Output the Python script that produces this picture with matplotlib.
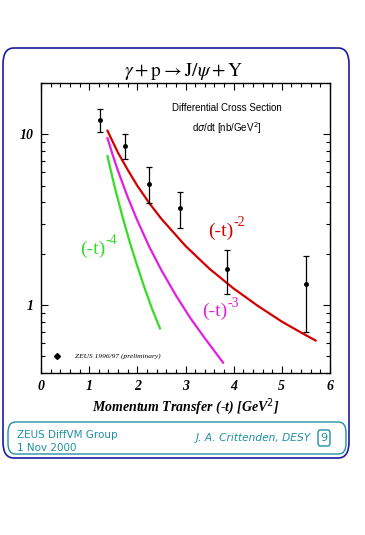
import matplotlib.pyplot as plt
from matplotlib.patches import FancyBboxPatch
import numpy as np

# ZEUS 1996/97 preliminary points: -t [GeV^2], dsigma/dt [nb/GeV^2], asymmetric errors
t_data = [1.22, 1.75, 2.25, 2.88, 3.87, 5.50]
xsec = [12.2, 8.6, 5.1, 3.7, 1.62, 1.32]
xsec_hi = [14.1, 10.1, 6.46, 4.62, 2.09, 1.94]
xsec_lo = [10.3, 7.13, 3.95, 2.83, 1.16, 0.70]

# curves
t_m2 = [1.38, 1.6, 1.8, 2.0, 2.25, 2.5, 3.0, 3.5, 4.0, 4.5, 5.0, 5.4, 5.7]
y_m2 = [10.5, 7.8, 6.2, 5.0, 3.95, 3.2, 2.22, 1.63, 1.25, 0.99, 0.80, 0.69, 0.62]
t_m3 = [1.38, 1.5, 1.6, 1.8, 2.0, 2.25, 2.5, 2.8, 3.1, 3.4, 3.78]
y_m3 = [9.5, 7.4, 6.1, 4.29, 3.13, 2.19, 1.6, 1.14, 0.84, 0.64, 0.46]
t_m4 = [1.38, 1.46, 1.55, 1.7, 1.85, 2.0, 2.15, 2.3, 2.47]
y_m4 = [7.45, 5.95, 4.67, 3.23, 2.30, 1.69, 1.26, 0.96, 0.73]

W, H = 365, 535


def fx(x):
    return x / W


def fy(y):
    return 1 - y / H


fig = plt.figure(figsize=(W / 100, H / 100), dpi=100)
fig.patch.set_facecolor('white')

# outer rounded frame and footer box
navy = '#1c1c9c'
teal = '#1f8fa6'
frame = FancyBboxPatch((fx(3), fy(458)), fx(346), (458 - 48) / H,
                       boxstyle='round,pad=0,rounding_size=0.03',
                       transform=fig.transFigure, fill=False, ec=navy, lw=1.2)
fig.patches.append(frame)
footer = FancyBboxPatch((fx(8), fy(454)), fx(338), (454 - 422) / H,
                        boxstyle='round,pad=0,rounding_size=0.02',
                        transform=fig.transFigure, fill=False, ec=teal, lw=1.0)
fig.patches.append(footer)
numbox = FancyBboxPatch((fx(318), fy(446)), fx(12), 16 / H,
                        boxstyle='round,pad=0,rounding_size=0.006',
                        transform=fig.transFigure, fill=False, ec=teal, lw=1.0)
fig.patches.append(numbox)

ax = fig.add_axes([fx(41), fy(373), fx(330 - 41), (373 - 83) / H])

ax.plot(t_m2, y_m2, color='#d40000', lw=1.6)
ax.plot(t_m3, y_m3, color='#e020e0', lw=1.6)
ax.plot(t_m4, y_m4, color='#33dd22', lw=1.6)

yerr = [np.array(xsec) - np.array(xsec_lo), np.array(xsec_hi) - np.array(xsec)]
ax.errorbar(t_data, xsec, yerr=yerr, fmt='o', color='black', ms=2.5,
            ecolor='black', elinewidth=0.9, capsize=2.5, capthick=0.9)

ax.set_yscale('log')
ax.set_xlim(0, 6)
ax.set_ylim(0.4, 20)
ax.set_xticks([0, 1, 2, 3, 4, 5, 6])
ax.set_xticks(np.arange(0, 6.01, 0.2), minor=True)
ax.set_yticks([1, 10])
ax.set_yticklabels(['1', '10'])
ax.tick_params(which='both', direction='in', top=True, right=True, width=0.8)
ax.tick_params(which='major', length=5, pad=5)
ax.tick_params(which='minor', length=3)
ax.yaxis.set_minor_formatter(plt.NullFormatter())
for lab in ax.get_xticklabels() + ax.get_yticklabels():
    lab.set_family('Liberation Serif')
    lab.set_fontweight('bold')
    lab.set_fontstyle('italic')
    lab.set_fontsize(10)
for s in ax.spines.values():
    s.set_linewidth(1.0)

ax.set_xlabel('Momentum Transfer (-t) [GeV$^2$]', family='Liberation Serif',
              fontweight='bold', fontstyle='italic', fontsize=10, labelpad=2)


# curve labels: "(-t)" with a small raised exponent
def power_label(x, y, expo, color):
    base = ax.text(x, y, '(-t)', color=color, family='Liberation Serif', fontsize=14)
    ax.annotate(expo, xy=(1.0, 0.62), xycoords=base, va='bottom', ha='left',
                color=color, family='Liberation Serif', fontsize=10)


power_label(3.47, 2.55, '-2', '#d40000')
power_label(0.82, 2.0, '-4', '#33dd22')
power_label(3.34, 0.86, '-3', '#e020e0')

# in-plot annotations
ax.text(3.85, 14.3, 'Differential Cross Section', ha='center', va='center',
        family='Liberation Sans', fontsize=7)
ax.text(3.85, 10.9, r'd$\sigma$/dt [nb/GeV$^2$]', ha='center', va='center',
        family='Liberation Sans', fontsize=7, math_fontfamily='dejavusans')
ax.plot([0.33], [0.505], 'D', color='black', ms=3)
ax.text(0.7, 0.505, 'ZEUS 1996/97 (preliminary)', va='center',
        family='Liberation Serif', fontstyle='italic', fontsize=5.3)

fig.text(fx(184), fy(71), r'$\gamma + \mathrm{p} \rightarrow \mathrm{J}/\psi + \mathrm{Y}$',
         ha='center', va='center', fontsize=14, math_fontfamily='stix')

fig.text(fx(17), fy(435), 'ZEUS DiffVM Group', color=teal, va='center',
         family='DejaVu Sans', fontsize=7.5)
fig.text(fx(17), fy(448), '1 Nov 2000', color=teal, va='center',
         family='DejaVu Sans', fontsize=7.5)
fig.text(fx(311), fy(438), 'J. A. Crittenden, DESY', color=teal, va='center',
         ha='right', family='DejaVu Sans', fontstyle='italic', fontsize=7.7)
fig.text(fx(324), fy(438), '9', color=teal, va='center', ha='center',
         family='DejaVu Sans', fontsize=8)

fig.savefig('out.png', dpi=100)
